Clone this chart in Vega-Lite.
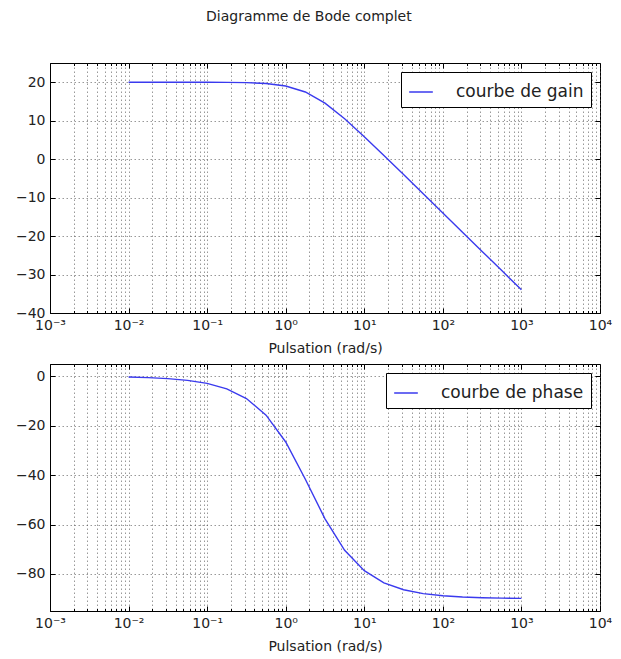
{
  "$schema": "https://vega.github.io/schema/vega-lite/v6.json",
  "padding": {"left": 5, "top": 10, "right": 5, "bottom": 2},
  "background": "white",
  "title": {"text": "Diagramme de Bode complet", "fontSize": 14, "font": "DejaVu Sans", "fontWeight": "normal", "color": "#222", "anchor": "middle", "offset": 38},
  "config": {
    "font": "DejaVu Sans",
    "view": {"stroke": "black", "strokeWidth": 1},
    "axis": {"labelFont": "DejaVu Sans", "titleFont": "DejaVu Sans", "labelFontSize": 14, "titleFontSize": 14, "titleFontWeight": "normal", "labelColor": "#222", "titleColor": "#222", "domainColor": "black", "tickColor": "black", "gridColor": "#555", "gridDash": [1.5, 2.5], "gridOpacity": 0.6, "gridWidth": 1}
  },
  "datasets": {
    "bode": [
      {"w": 0.01, "gain": 20.0, "phase": -0.29},
      {"w": 0.01778, "gain": 20.0, "phase": -0.51},
      {"w": 0.03162, "gain": 19.999, "phase": -0.91},
      {"w": 0.05623, "gain": 19.997, "phase": -1.61},
      {"w": 0.1, "gain": 19.989, "phase": -2.86},
      {"w": 0.1778, "gain": 19.966, "phase": -5.08},
      {"w": 0.3162, "gain": 19.893, "phase": -8.99},
      {"w": 0.5623, "gain": 19.67, "phase": -15.7},
      {"w": 1, "gain": 19.03, "phase": -26.57},
      {"w": 1.778, "gain": 17.47, "phase": -41.64},
      {"w": 3.162, "gain": 14.56, "phase": -57.69},
      {"w": 5.623, "gain": 10.5, "phase": -70.43},
      {"w": 10, "gain": 5.85, "phase": -78.69},
      {"w": 17.78, "gain": 0.97, "phase": -83.58},
      {"w": 31.62, "gain": -4.0, "phase": -86.38},
      {"w": 56.23, "gain": -8.99, "phase": -87.96},
      {"w": 100, "gain": -13.98, "phase": -88.85},
      {"w": 177.8, "gain": -18.98, "phase": -89.36},
      {"w": 316.2, "gain": -23.98, "phase": -89.64},
      {"w": 562.3, "gain": -28.98, "phase": -89.8},
      {"w": 1000, "gain": -33.98, "phase": -89.89}
    ]
  },
  "resolve": {"scale": {"color": "independent"}},
  "spacing": 7,
  "vconcat": [
    {
      "width": 550,
      "height": 250,
      "data": {"name": "bode"},
      "resolve": {"axis": {"x": "independent", "y": "independent"}},
      "layer": [
        {
          "mark": {"type": "line", "strokeWidth": 1.4, "clip": true},
          "encoding": {
            "x": {"field": "w", "type": "quantitative",
              "scale": {"type": "log", "domain": [0.001, 10000], "nice": false},
              "axis": {"title": "Pulsation (rad/s)", "titlePadding": 7, "labelPadding": 10,
                "values": [0.001,0.002,0.003,0.004,0.005,0.006,0.007,0.008,0.009,0.01,0.02,0.03,0.04,0.05,0.06,0.07,0.08,0.09,0.1,0.2,0.3,0.4,0.5,0.6,0.7,0.8,0.9,1,2,3,4,5,6,7,8,9,10,20,30,40,50,60,70,80,90,100,200,300,400,500,600,700,800,900,1000,2000,3000,4000,5000,6000,7000,8000,9000,10000],
                "labelExpr": "abs(log(datum.value)/LN10 - round(log(datum.value)/LN10)) < 1e-6 ? '10' + ['⁻³','⁻²','⁻¹','⁰','¹','²','³','⁴'][round(log(datum.value)/LN10)+3] : ''",
                "tickSize": {"condition": {"test": "abs(log(datum.value)/LN10 - round(log(datum.value)/LN10)) < 1e-6", "value": -5}, "value": -2.5},
                "labelFlush": false, "labelOverlap": false}},
            "y": {"field": "gain", "type": "quantitative",
              "scale": {"domain": [-40, 25], "nice": false, "zero": false},
              "axis": {"title": null, "values": [-40,-30,-20,-10,0,10,20], "tickSize": -5, "labelPadding": 10, "minExtent": 44, "maxExtent": 44}},
            "color": {"datum": "courbe de gain", "type": "nominal",
              "scale": {"range": ["#3a3aee"]},
              "legend": {"title": null, "orient": "top-right", "offset": 9, "symbolType": "stroke", "symbolSize": 560, "symbolStrokeWidth": 1.5, "labelFontSize": 17, "labelFont": "DejaVu Sans", "labelColor": "#222", "labelOffset": 22, "strokeColor": "black", "fillColor": "white", "padding": 7, "cornerRadius": 0}}
          }
        },
        {
          "mark": {"type": "line", "opacity": 0},
          "encoding": {
            "x": {"field": "w", "type": "quantitative",
              "axis": {"orient": "top", "title": null, "labels": false, "grid": false, "domain": false,
                "values": [0.001,0.002,0.003,0.004,0.005,0.006,0.007,0.008,0.009,0.01,0.02,0.03,0.04,0.05,0.06,0.07,0.08,0.09,0.1,0.2,0.3,0.4,0.5,0.6,0.7,0.8,0.9,1,2,3,4,5,6,7,8,9,10,20,30,40,50,60,70,80,90,100,200,300,400,500,600,700,800,900,1000,2000,3000,4000,5000,6000,7000,8000,9000,10000],
                "tickSize": {"condition": {"test": "abs(log(datum.value)/LN10 - round(log(datum.value)/LN10)) < 1e-6", "value": -5}, "value": -2.5}}},
            "y": {"field": "gain", "type": "quantitative",
              "axis": {"orient": "right", "title": null, "labels": false, "grid": false, "domain": false, "values": [-40,-30,-20,-10,0,10,20], "tickSize": -5}}
          }
        }
      ]
    },
    {
      "width": 550,
      "height": 247,
      "data": {"name": "bode"},
      "resolve": {"axis": {"x": "independent", "y": "independent"}},
      "layer": [
        {
          "mark": {"type": "line", "strokeWidth": 1.4, "clip": true},
          "encoding": {
            "x": {"field": "w", "type": "quantitative",
              "scale": {"type": "log", "domain": [0.001, 10000], "nice": false},
              "axis": {"title": "Pulsation (rad/s)", "titlePadding": 7, "labelPadding": 10,
                "values": [0.001,0.002,0.003,0.004,0.005,0.006,0.007,0.008,0.009,0.01,0.02,0.03,0.04,0.05,0.06,0.07,0.08,0.09,0.1,0.2,0.3,0.4,0.5,0.6,0.7,0.8,0.9,1,2,3,4,5,6,7,8,9,10,20,30,40,50,60,70,80,90,100,200,300,400,500,600,700,800,900,1000,2000,3000,4000,5000,6000,7000,8000,9000,10000],
                "labelExpr": "abs(log(datum.value)/LN10 - round(log(datum.value)/LN10)) < 1e-6 ? '10' + ['⁻³','⁻²','⁻¹','⁰','¹','²','³','⁴'][round(log(datum.value)/LN10)+3] : ''",
                "tickSize": {"condition": {"test": "abs(log(datum.value)/LN10 - round(log(datum.value)/LN10)) < 1e-6", "value": -5}, "value": -2.5},
                "labelFlush": false, "labelOverlap": false}},
            "y": {"field": "phase", "type": "quantitative",
              "scale": {"domain": [-95, 5], "nice": false, "zero": false},
              "axis": {"title": null, "values": [-80,-60,-40,-20,0], "tickSize": -5, "labelPadding": 10, "minExtent": 44, "maxExtent": 44}},
            "color": {"datum": "courbe de phase", "type": "nominal",
              "scale": {"range": ["#3a3aee"]},
              "legend": {"title": null, "orient": "top-right", "offset": 9, "symbolType": "stroke", "symbolSize": 560, "symbolStrokeWidth": 1.5, "labelFontSize": 17, "labelFont": "DejaVu Sans", "labelColor": "#222", "labelOffset": 22, "strokeColor": "black", "fillColor": "white", "padding": 7, "cornerRadius": 0}}
          }
        },
        {
          "mark": {"type": "line", "opacity": 0},
          "encoding": {
            "x": {"field": "w", "type": "quantitative",
              "axis": {"orient": "top", "title": null, "labels": false, "grid": false, "domain": false,
                "values": [0.001,0.002,0.003,0.004,0.005,0.006,0.007,0.008,0.009,0.01,0.02,0.03,0.04,0.05,0.06,0.07,0.08,0.09,0.1,0.2,0.3,0.4,0.5,0.6,0.7,0.8,0.9,1,2,3,4,5,6,7,8,9,10,20,30,40,50,60,70,80,90,100,200,300,400,500,600,700,800,900,1000,2000,3000,4000,5000,6000,7000,8000,9000,10000],
                "tickSize": {"condition": {"test": "abs(log(datum.value)/LN10 - round(log(datum.value)/LN10)) < 1e-6", "value": -5}, "value": -2.5}}},
            "y": {"field": "phase", "type": "quantitative",
              "axis": {"orient": "right", "title": null, "labels": false, "grid": false, "domain": false, "values": [-80,-60,-40,-20,0], "tickSize": -5}}
          }
        }
      ]
    }
  ]
}
